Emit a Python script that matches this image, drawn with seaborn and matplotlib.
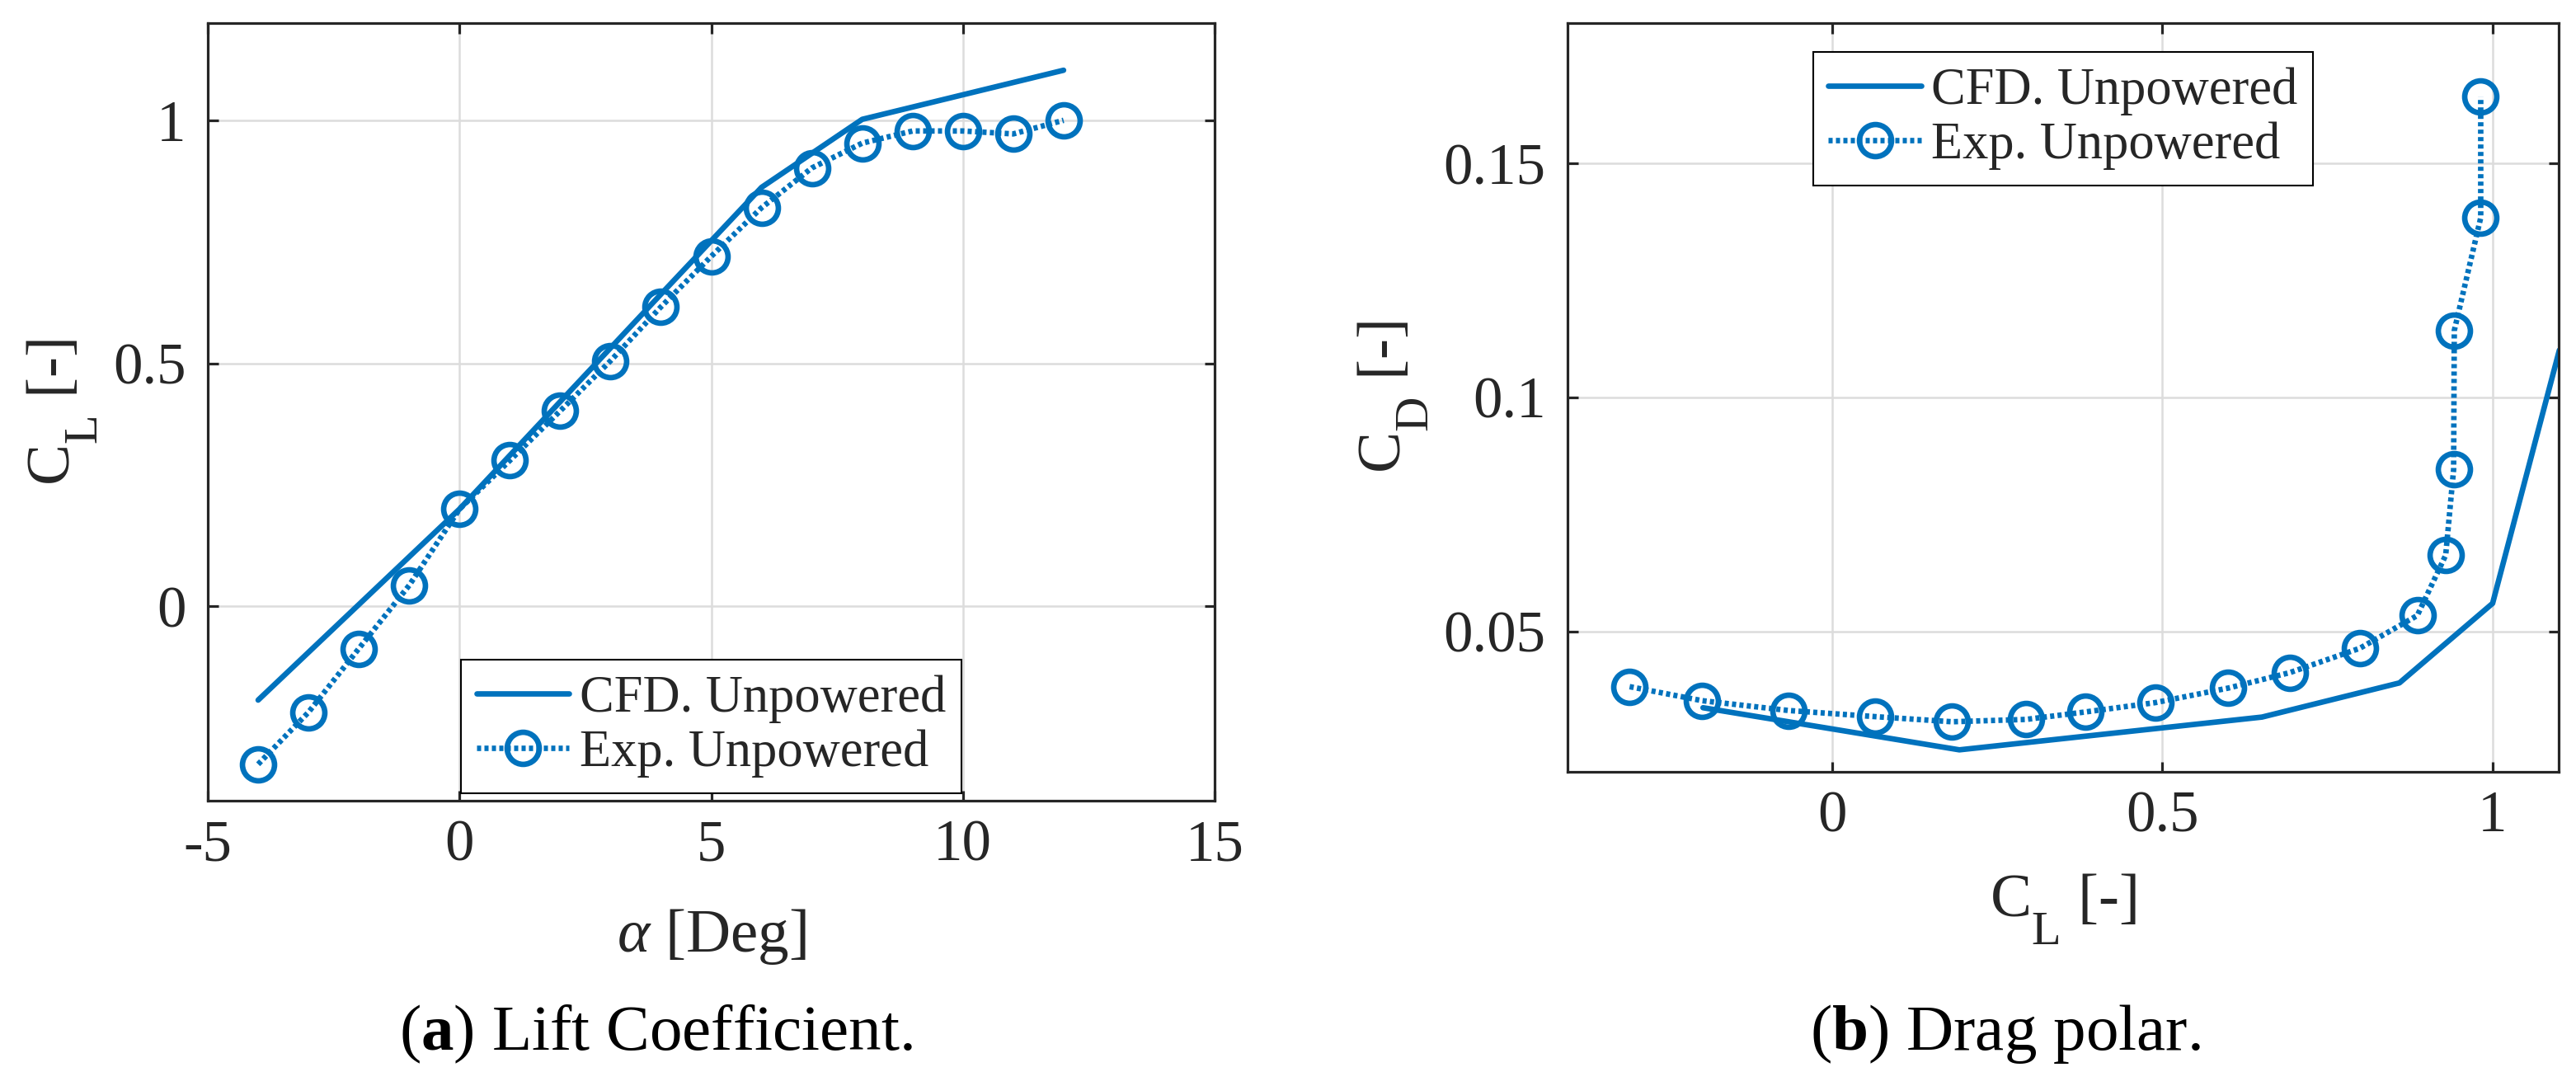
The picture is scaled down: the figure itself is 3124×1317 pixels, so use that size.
import seaborn as sns
import matplotlib.pyplot as plt
import matplotlib._mathtext as mathtext_internals

# lift curve data
alpha_cfd = [-4, 0, 4, 6, 8, 12]
cl_cfd = [-0.193, 0.200, 0.642, 0.862, 1.002, 1.103]
alpha_exp = [-4, -3, -2, -1, 0, 1, 2, 3, 4, 5, 6, 7, 8, 9, 10, 11, 12]
cl_exp = [-0.325, -0.218, -0.087, 0.043, 0.200, 0.300, 0.402, 0.505, 0.616,
          0.720, 0.820, 0.902, 0.953, 0.978, 0.978, 0.972, 1.000]

# drag polar data
polar_cl_cfd = [-0.195, 0.193, 0.651, 0.859, 1.000, 1.101]
polar_cd_cfd = [0.0337, 0.0247, 0.0317, 0.0390, 0.0560, 0.1101]
polar_cl_exp = [-0.306, -0.196, -0.065, 0.065, 0.182, 0.294, 0.384, 0.490, 0.600,
                0.693, 0.799, 0.886, 0.929, 0.941, 0.942, 0.982, 0.982]
polar_cd_exp = [0.0382, 0.0352, 0.0331, 0.0318, 0.0307, 0.0312, 0.0328, 0.0348, 0.0379,
                0.0412, 0.0464, 0.0534, 0.0663, 0.0846, 0.1143, 0.1384, 0.1643]

lift_xticks = [-5, 0, 5, 10, 15]
lift_yticks = [0, 0.5, 1]
lift_yticklabels = ['0', '0.5', '1']
polar_xticks = [0, 0.5, 1]
polar_xticklabels = ['0', '0.5', '1']
polar_yticks = [0.05, 0.1, 0.15]
polar_yticklabels = ['0.05', '0.1', '0.15']

labels = ['CFD. Unpowered', 'Exp. Unpowered']
blue = '#0072BD'
dark = '#262626'

sns.set_theme(style='ticks')
plt.rcParams['font.family'] = ['Liberation Serif', 'DejaVu Serif']
plt.rcParams['mathtext.fontset'] = 'custom'
plt.rcParams['mathtext.rm'] = 'Liberation Serif'
plt.rcParams['mathtext.it'] = 'Liberation Serif:italic'
plt.rcParams['mathtext.bf'] = 'Liberation Serif:bold'
plt.rcParams['axes.unicode_minus'] = False

# MATLAB-style subscripts: bigger and dropped lower than mathtext default
mathtext_internals.SHRINK_FACTOR = 0.78
mathtext_internals.FontConstantsBase.sub1 = 1.0

fig = plt.figure(figsize=(31.24, 13.17), dpi=100)
ax1 = fig.add_axes([252 / 3124, 346 / 1317, 1221 / 3124, 943 / 1317])
ax2 = fig.add_axes([1901 / 3124, 381 / 1317, 1202 / 3124, 908 / 1317])

lw = 4.8
solid_kw = dict(color=blue, linewidth=lw, estimator=None, sort=False)
dot_kw = dict(color=blue, linewidth=lw, linestyle=(0, (0.75, 0.6)), marker='o',
              markersize=28, markerfacecolor='none', markeredgecolor=blue,
              markeredgewidth=lw, estimator=None, sort=False)

sns.lineplot(x=alpha_cfd, y=cl_cfd, ax=ax1, label=labels[0], **solid_kw)
sns.lineplot(x=alpha_exp, y=cl_exp, ax=ax1, label=labels[1], **dot_kw)
sns.lineplot(x=polar_cl_cfd, y=polar_cd_cfd, ax=ax2, label=labels[0], **solid_kw)
sns.lineplot(x=polar_cl_exp, y=polar_cd_exp, ax=ax2, label=labels[1], **dot_kw)

ax1.set_xlim(-5, 15)
ax1.set_ylim(-0.4, 1.2)
ax1.set_xticks(lift_xticks)
ax1.set_xticklabels([str(t) for t in lift_xticks])
ax1.set_yticks(lift_yticks)
ax1.set_yticklabels(lift_yticklabels)

ax2.set_xlim(-0.4, 1.1)
ax2.set_ylim(0.02, 0.18)
ax2.set_xticks(polar_xticks)
ax2.set_xticklabels(polar_xticklabels)
ax2.set_yticks(polar_yticks)
ax2.set_yticklabels(polar_yticklabels)

for ax in (ax1, ax2):
    ax.grid(True, color='#dcdcdc', linewidth=1.8)
    ax.set_axisbelow(True)
    for sp in ax.spines.values():
        sp.set_visible(True)
        sp.set_color(dark)
        sp.set_linewidth(2.3)
    ax.tick_params(direction='in', length=9, width=2.3, color=dark,
                   labelcolor=dark, labelsize=51, top=True, right=True)
    ax.tick_params(axis='x', pad=16)
    ax.tick_params(axis='y', pad=19)

ax1.set_xlabel(r'$\alpha$ [Deg]', fontsize=54, color=dark, labelpad=30)
ax1.set_ylabel(r'C$_{\mathrm{L}}$ [-]', fontsize=54, color=dark, labelpad=12)
ax2.set_xlabel(r'C$_{\mathrm{L}}$ [-]', fontsize=54, color=dark, labelpad=24)
ax2.set_ylabel(r'C$_{\mathrm{D}}$ [-]', fontsize=54, color=dark, labelpad=12)

leg_kw = dict(fontsize=45, frameon=True, fancybox=False, framealpha=1,
              edgecolor='black', handlelength=1.8, handletextpad=0.2,
              borderpad=0.3, labelspacing=0.12, borderaxespad=0)
leg1 = ax1.legend(loc='lower center', bbox_to_anchor=(0.5, 9 / 943), **leg_kw)
leg2 = ax2.legend(loc='upper center', bbox_to_anchor=(0.5, 1 - 35 / 908), **leg_kw)
for leg in (leg1, leg2):
    leg.get_frame().set_linewidth(1.5)

fig.text(796 / 3124, 1 - 1273 / 1317, r'($\mathbf{a}$) Lift Coefficient.',
         fontsize=57, ha='center', va='baseline', color='black')
fig.text(2432 / 3124, 1 - 1273 / 1317, r'($\mathbf{b}$) Drag polar.',
         fontsize=57, ha='center', va='baseline', color='black')

fig.savefig('out.png', dpi=100, facecolor='white')
